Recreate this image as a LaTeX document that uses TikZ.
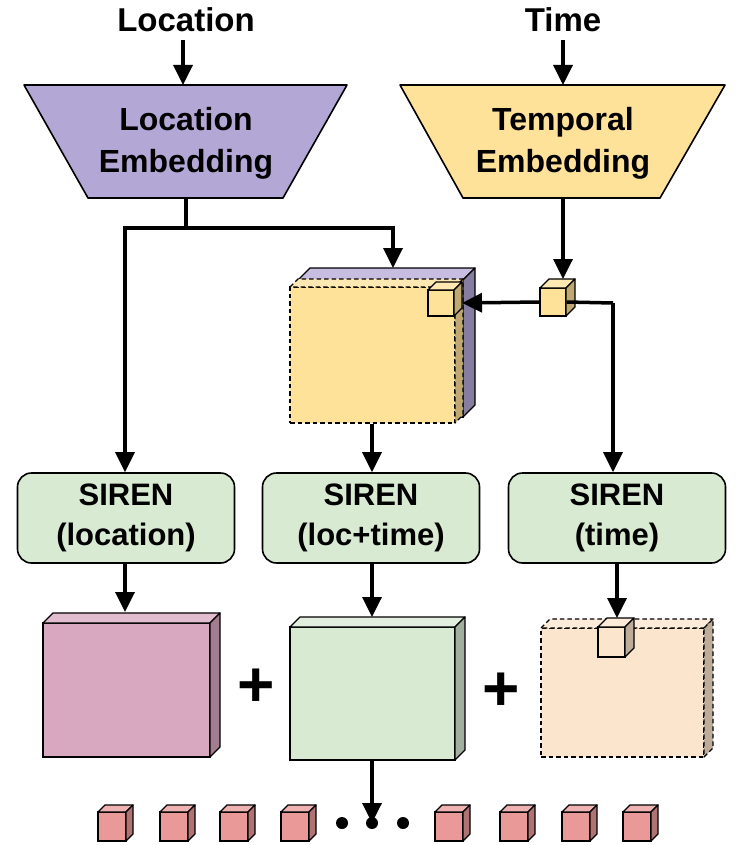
\documentclass[tikz,border=0pt]{standalone}
\usepackage{fontspec}
\setmainfont{Liberation Sans}
\usetikzlibrary{arrows.meta}
\tikzset{
 conn/.style={line width=3.5pt,-{Triangle[length=20pt,width=19pt]}},
 plain/.style={line width=3.5pt},
 lbl/.style={font=\fontsize{33}{36}\selectfont\bfseries},
 emb/.style={font=\fontsize{32}{42}\selectfont\bfseries,align=center},
 dsh/.style={dash pattern=on 4.5pt off 3pt},
 siren/.style={draw,line width=1.6pt,rounded corners=14pt,fill=sirenfill,minimum width=217pt,minimum height=90pt,font=\fontsize{31}{40}\selectfont\bfseries,align=center},
}
\definecolor{sirenfill}{HTML}{D9EAD3}
\definecolor{purp}{HTML}{B3A7D6}
\definecolor{yel}{HTML}{FFE299}
\definecolor{pink}{HTML}{D8A7C0}
\definecolor{grn}{HTML}{D9EAD3}
\definecolor{peach}{HTML}{FCE5CD}
\definecolor{red}{HTML}{EA9999}
% \cub{name}{fill}{dash}{x1}{y1}{x2}{y2}{d}
\newcommand{\cub}[8]{%
 \node[draw,line width=1.3pt,#3,fill=#2,inner sep=0pt,minimum width={((#6)-(#4))*1pt},minimum height={((#7)-(#5))*1pt}] (#1) at ({((#4)+(#6))/2},{((#5)+(#7))/2}) {};
 \draw[line width=1.3pt,#3,fill=#2!75!white,line join=round] ({#4},{#5})--({#4+#8},{#5-#8})--({#6+#8},{#5-#8})--({#6},{#5})--cycle;
 \draw[line width=1.3pt,#3,fill=#2!75!black,line join=round] ({#6},{#5})--({#6+#8},{#5-#8})--({#6+#8},{#7-#8})--({#6},{#7})--cycle;
}
\begin{document}
\begin{tikzpicture}[x=1pt,y=-1pt]
\useasboundingbox (0,0) rectangle (747,845);
% inputs
\node[lbl] (loc) at (186,20) {Location};
\node[lbl] (time) at (563,20) {Time};
\draw[line width=1.6pt,fill=purp,line join=round] (24,85)--(347,85)--(283,198)--(88,198)--cycle;
\node[emb] (le) at (186,143) {Location\\Embedding};
\coordinate (leb) at (186,198);
\coordinate (let) at (183,85);
\draw[line width=1.6pt,fill=yel,line join=round] (400,85)--(725,85)--(660,198)--(463,198)--cycle;
\node[emb] (te) at (563,143) {Temporal\\Embedding};
\coordinate (teb) at (563,198);
\coordinate (tet) at (563,85);
\draw[conn] (183,40) coordinate (l0) -- (let);
\draw[conn] (563,40) coordinate (t0) -- (tet);
% center cube
\cub{back}{purp}{solid}{298}{280}{463}{417}{12}
\cub{mid}{yel}{dsh}{290}{287}{455}{423}{8}
\cub{mc}{yel}{solid}{428}{290}{454}{316}{8}
\cub{tc}{yel}{solid}{540}{288}{566}{316}{9}
% SIREN
\node[siren] (s1) at (126,518) {SIREN\\(location)};
\node[siren] (s2) at (371,518) {SIREN\\(loc+time)};
\node[siren] (s3) at (617,518) {SIREN\\(time)};
% connectors top
\draw[plain] (leb) -- (186,228) coordinate (j1);
\draw[conn] (j1) -| (s1.north -| 125,0);
\draw[conn] (j1) -| (393,268);
\draw[conn] (teb) -- (563,279);
\draw[plain] (tc.east) -- (613,303) coordinate (j2);
\draw[conn] (tc.west) -- (462,303);
\draw[conn] (j2) -- (s3.north -| j2);
\draw[conn] (mid.south -| 372,0) -- (s2.north -| 372,0);
% outputs
\cub{o1}{pink}{solid}{43}{623}{210}{757}{10}
\cub{o2}{grn}{solid}{290}{627}{455}{760}{10}
\cub{o3}{peach}{dsh}{541}{628}{704}{757}{9}
\cub{oc}{peach}{solid}{598}{627}{625}{657}{9}
\draw[conn] (s1.south -| 125,0) -- (125,612);
\draw[conn] (s2.south -| 372,0) -- (372,617);
\draw[conn] (s3.south -| 617,0) -- (617,618);
\node[font=\fontsize{64}{64}\selectfont\bfseries] (p1) at (256,688) {+};
\node[font=\fontsize{64}{64}\selectfont\bfseries] (p2) at (501,692) {+};
% bottom
\foreach \x [count=\i] in {113,175,235,296,450,515,577,638}{
 \cub{r\i}{red}{solid}{\x-15}{812}{\x+13}{841}{7}
}
\foreach \x [count=\i] in {342,372,403}{\fill (\x,823) circle (6pt) coordinate (d\i);}
\draw[conn] (o2.south -| 372,0) -- (d2);
\end{tikzpicture}
\end{document}
